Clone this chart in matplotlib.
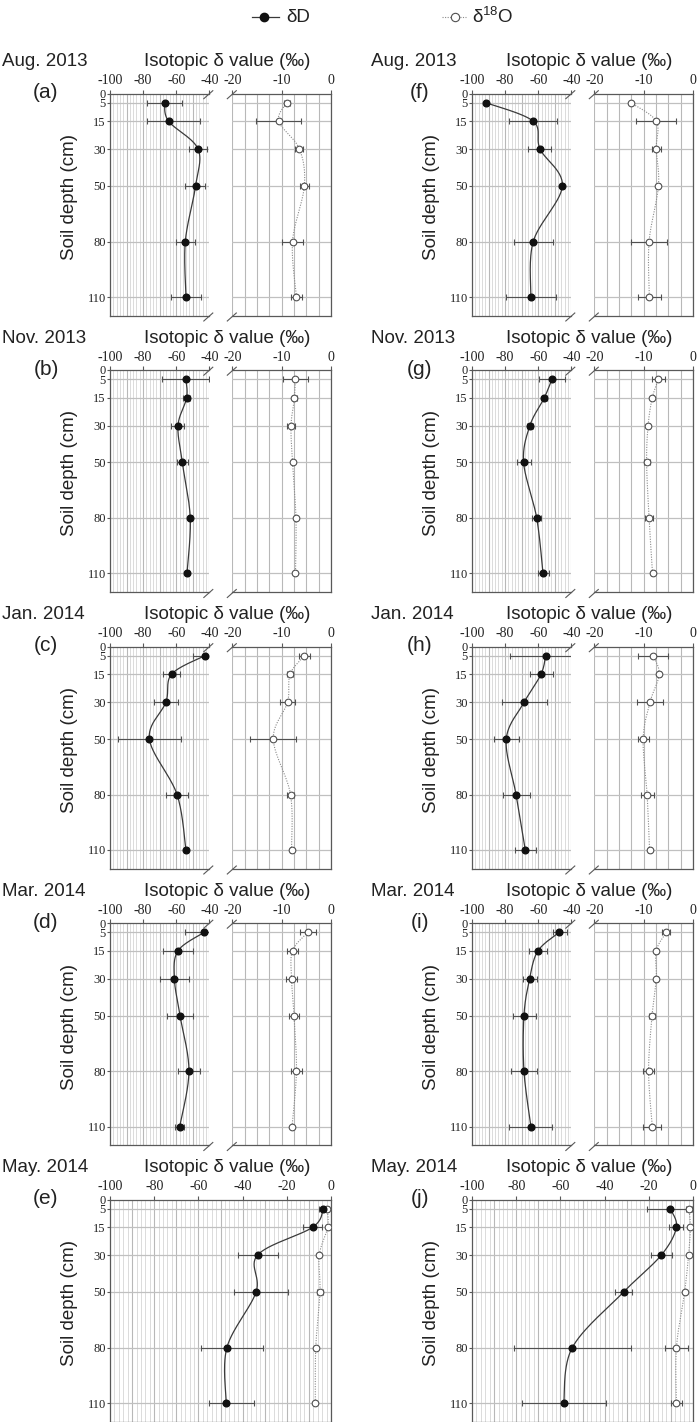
import numpy as np
import matplotlib
matplotlib.use("Agg")
from matplotlib import pyplot as plt
from matplotlib.lines import Line2D
from matplotlib.transforms import ScaledTranslation

W, H = 697, 1422

depths = [5, 15, 30, 50, 80, 110]
depth_ticks = [0, 5, 15, 30, 50, 80, 110]
months = ["Aug. 2013", "Nov. 2013", "Jan. 2014", "Mar. 2014", "May. 2014"]

# deltaD mean and lower / upper error, per panel
dD_mean = {
  "a": [-67.0, -64.6, -46.8, -48.3, -54.5, -54.1],
  "b": [-54.1, -53.7, -58.9, -56.3, -51.5, -53.5],
  "c": [-42.8, -62.8, -66.2, -76.2, -59.5, -54.1],
  "d": [-43.0, -58.9, -61.1, -57.7, -52.3, -57.9],
  "e": [-3.5, -8.3, -33.2, -33.9, -47.1, -47.4],
  "f": [-91.5, -63.0, -58.9, -45.4, -63.0, -64.4],
  "g": [-51.7, -56.3, -65.0, -68.8, -60.9, -57.1],
  "h": [-55.5, -58.3, -68.4, -79.3, -73.4, -67.8],
  "i": [-47.3, -60.1, -65.2, -68.6, -68.6, -64.4],
  "j": [-10.3, -7.5, -14.3, -31.4, -54.6, -58.5],
}
dD_lo = {
  "a": [10.5, 12.9, 5.2, 6.2, 5.8, 9.3],
  "b": [14.3, 2.0, 4.2, 3.4, 1.0, 1.0],
  "c": [6.9, 5.0, 7.2, 18.8, 6.7, 1.0],
  "d": [11.5, 9.3, 8.5, 8.1, 6.4, 2.8],
  "e": [1.8, 4.2, 8.7, 9.8, 11.6, 8.0],
  "f": [1.0, 14.5, 7.3, 1.0, 11.8, 14.9],
  "g": [8.0, 1.5, 2.0, 3.8, 2.9, 3.0],
  "h": [21.3, 6.9, 13.7, 7.6, 7.9, 6.4],
  "i": [4.0, 5.3, 4.2, 6.8, 7.6, 13.1],
  "j": [10.5, 3.2, 4.9, 3.9, 26.5, 18.9],
}
dD_hi = {
  "a": [10.6, 18.7, 5.4, 6.0, 5.8, 9.3],
  "b": [13.7, 2.0, 3.8, 3.6, 1.0, 1.0],
  "c": [6.9, 5.1, 7.5, 18.9, 6.4, 1.0],
  "d": [11.5, 9.2, 8.6, 8.0, 6.5, 2.8],
  "e": [1.8, 4.1, 9.2, 14.6, 16.3, 12.6],
  "f": [1.0, 14.5, 6.6, 1.0, 11.9, 15.1],
  "g": [8.1, 1.5, 2.0, 4.4, 2.8, 3.6],
  "h": [21.3, 7.0, 13.7, 7.5, 8.2, 6.7],
  "i": [4.5, 5.4, 4.3, 7.3, 7.7, 12.9],
  "j": [9.6, 3.0, 4.8, 3.8, 26.5, 19.0],
}

# delta18O mean and symmetric error, per panel
dO_mean = {
  "a": [-9.0, -10.6, -6.4, -5.4, -7.8, -7.0],
  "b": [-7.2, -7.4, -8.1, -7.8, -7.1, -7.2],
  "c": [-5.4, -8.3, -8.8, -11.7, -8.2, -8.0],
  "d": [-4.7, -7.8, -8.0, -7.5, -7.0, -7.9],
  "e": [-1.7, -1.5, -5.3, -5.0, -6.9, -7.1],
  "f": [-12.6, -7.45, -7.45, -7.0, -8.9, -8.85],
  "g": [-7.0, -8.25, -9.1, -9.4, -8.9, -8.2],
  "h": [-8.05, -6.85, -8.7, -10.1, -9.3, -8.8],
  "i": [-5.4, -7.45, -7.45, -8.3, -9.0, -8.25],
  "j": [-1.8, -1.2, -2.0, -3.8, -7.5, -7.5],
}
dO_err = {
  "a": [0.6, 4.5, 0.8, 0.9, 2.1, 1.2],
  "b": [2.6, 0.6, 0.8, 0.2, 0.2, 0.2],
  "c": [1.1, 0.7, 1.6, 4.7, 0.8, 0.3],
  "d": [1.6, 1.1, 1.1, 1.1, 1.1, 0.3],
  "e": [1.0, 0.3, 0.5, 1.5, 0.5, 0.5],
  "f": [0.2, 4.0, 0.9, 0.3, 3.7, 2.3],
  "g": [1.4, 0.3, 0.3, 0.6, 0.8, 0.3],
  "h": [3.0, 0.3, 2.6, 1.1, 1.3, 0.3],
  "i": [0.8, 0.3, 0.3, 0.6, 1.1, 1.8],
  "j": [1.2, 0.3, 0.3, 0.3, 5.3, 2.3],
}

SANS = "Liberation Sans"
SERIF = "Liberation Serif"
SPINE = "#595959"
TXT = "#222222"
plt.rcParams["axes.unicode_minus"] = False
plt.rcParams["mathtext.fontset"] = "custom"
plt.rcParams["mathtext.rm"] = SANS

ROW0, ROW_STEP, PANEL_H = 93.5, 276.5, 222.0
SUB_W, RIGHT_OFF, RIGHT_W, FULL_W = 99.3, 122.3, 98.7, 221.0


def add_px_axes(fig, x0, y0, w, h):
  return fig.add_axes([x0 / W, 1 - (y0 + h) / H, w / W, h / H])


def smooth(xs, ys, sx, sy, n=30):
  """Catmull-Rom curve through the points, in pixel-like space."""
  P = np.column_stack([np.asarray(xs) * sx, np.asarray(ys) * sy])
  Pe = np.vstack([P[0], P, P[-1]])
  t = np.linspace(0, 1, n)[:, None]
  segs = []
  for i in range(len(P) - 1):
    p0, p1, p2, p3 = Pe[i], Pe[i + 1], Pe[i + 2], Pe[i + 3]
    segs.append(0.5 * (2 * p1 + (p2 - p0) * t
                       + (2 * p0 - 5 * p1 + 4 * p2 - p3) * t ** 2
                       + (3 * p1 - p0 - 3 * p2 + p3) * t ** 3))
  C = np.vstack(segs)
  return C[:, 0] / sx, C[:, 1] / sy


def base_axis(fig, ax, xlim, xticks, grid_minor, grid_major, show_y, spines):
  ax.set_xlim(*xlim)
  ax.set_ylim(120, 0)
  ax.xaxis.tick_top()
  ax.set_xticks(xticks)
  ax.set_xticklabels([f"{v:g}" for v in xticks], fontfamily=SERIF,
                     fontsize=10, color=TXT)
  ax.tick_params(axis="x", direction="out", length=3, width=0.8,
                 color=SPINE, pad=1.5)
  for v in grid_minor:
    ax.axvline(v, color="#d6d6d6", lw=0.6, zorder=0)
  for v in grid_major:
    ax.axvline(v, color="#b8b8b8", lw=0.8, zorder=0)
  for d in depths:
    ax.axhline(d, color="#c0c0c0", lw=0.9, zorder=0)
  if show_y:
    ax.set_yticks(depth_ticks)
    labels = ax.set_yticklabels([str(v) for v in depth_ticks],
                                fontfamily=SERIF, fontsize=9, color=TXT)
    # the 0 and 5 labels sit very close; nudge them apart a little
    labels[0].set_transform(labels[0].get_transform()
                            + ScaledTranslation(0, 3.5 / 100, fig.dpi_scale_trans))
    labels[1].set_transform(labels[1].get_transform()
                            + ScaledTranslation(0, -1.5 / 100, fig.dpi_scale_trans))
    ax.tick_params(axis="y", direction="out", length=2, width=0.8,
                   color=SPINE, pad=1)
  else:
    ax.set_yticks([])
  for side in ["top", "bottom", "left", "right"]:
    ax.spines[side].set_visible(side in spines)
    ax.spines[side].set_color(SPINE)
    ax.spines[side].set_linewidth(0.9)
  ax.set_facecolor("white")


def draw_dD(ax, p, sx):
  cx, cy = smooth(dD_mean[p], depths, sx, PANEL_H / 120)
  ax.plot(cx, cy, color="#3a3a3a", lw=0.9, zorder=3)
  ax.errorbar(dD_mean[p], depths, xerr=[dD_lo[p], dD_hi[p]], fmt="none",
              ecolor="#505050", elinewidth=0.8, capsize=2, capthick=0.8,
              zorder=4)
  ax.plot(dD_mean[p], depths, "o", ms=4.8, mfc="#111111", mec="#111111",
          zorder=5)


def draw_dO(ax, p, sx):
  cx, cy = smooth(dO_mean[p], depths, sx, PANEL_H / 120)
  ax.plot(cx, cy, color="#8a8a8a", lw=0.8, ls=(0, (1, 1.3)), zorder=3)
  ax.errorbar(dO_mean[p], depths, xerr=dO_err[p], fmt="none",
              ecolor="#505050", elinewidth=0.8, capsize=2, capthick=0.8,
              zorder=4)
  ax.plot(dO_mean[p], depths, "o", ms=4.8, mfc="white", mec="#505050",
          mew=0.8, zorder=5)


def break_mark(fig, x, y):
  fig.add_artist(Line2D([(x - 4.5) / W, (x + 4.5) / W],
                        [1 - (y + 4) / H, 1 - (y - 4) / H],
                        transform=fig.transFigure, color=SPINE, lw=0.8))


def fig_text(fig, x, y, s, **kw):
  fig.text(x / W, 1 - y / H, s, fontfamily=SANS, color=TXT, **kw)


fig = plt.figure(figsize=(W / 100, H / 100), dpi=100)

columns = [(110.0, "abcde", 2, 227, 46, 70), (472.0, "fghij", 371, 589, 420, 431)]
for x0, letters, month_x, title_x, letter_x, soil_x in columns:
  for row, p in enumerate(letters):
    top = ROW0 + ROW_STEP * row
    off = ROW_STEP * row
    if row < 4:
      axl = add_px_axes(fig, x0, top, SUB_W, PANEL_H)
      base_axis(fig, axl, (-100, -40), [-100, -80, -60, -40],
                np.arange(-98, -40, 2), np.arange(-90, -39, 10), True,
                ["top", "bottom", "left"])
      draw_dD(axl, p, SUB_W / 60)
      axr = add_px_axes(fig, x0 + RIGHT_OFF, top, RIGHT_W, PANEL_H)
      base_axis(fig, axr, (-20, 0), [-20, -10, 0], [],
                np.arange(-20, 0.1, 2.5), False, ["top", "bottom", "right"])
      draw_dO(axr, p, RIGHT_W / 20)
      for bx in (x0 + SUB_W - 1, x0 + RIGHT_OFF - 0.5):
        break_mark(fig, bx, top + 1.2)
        break_mark(fig, bx, top + PANEL_H + 1.5)
    else:
      ax = add_px_axes(fig, x0, top, FULL_W, PANEL_H)
      base_axis(fig, ax, (-100, 0), [-100, -80, -60, -40, -20, 0],
                np.arange(-98, 0, 2), np.arange(-90, 0.1, 10), True,
                ["top", "bottom", "left", "right"])
      draw_dO(ax, p, FULL_W / 100)
      draw_dD(ax, p, FULL_W / 100)

    fig_text(fig, month_x, 62 + off, months[row], fontsize=13.5,
             ha="left", va="center")
    fig_text(fig, title_x, 62 + off, "Isotopic δ value (‰)", fontsize=13.5,
             ha="center", va="center")
    fig_text(fig, letter_x, 93 + off, f"({p})", fontsize=15,
             ha="center", va="center")
    fig_text(fig, soil_x, 197 + off, "Soil depth (cm)", fontsize=13.5,
             ha="center", va="center", rotation=90)

# legend at the top
fig.add_artist(Line2D([252 / W, 279 / W], [1 - 17 / H] * 2,
                      transform=fig.transFigure, color="#3a3a3a", lw=0.9))
fig.add_artist(Line2D([264 / W], [1 - 17 / H], transform=fig.transFigure,
                      marker="o", ms=6, mfc="#111111", mec="#111111"))
fig_text(fig, 286, 17, "δD", fontsize=13.5, ha="left", va="center")
fig.add_artist(Line2D([442 / W, 466 / W], [1 - 17 / H] * 2,
                      transform=fig.transFigure, color="#8a8a8a", lw=0.8,
                      ls=(0, (1, 1.3))))
fig.add_artist(Line2D([455 / W], [1 - 17 / H], transform=fig.transFigure,
                      marker="o", ms=6, mfc="white", mec="#505050", mew=0.8))
fig_text(fig, 472, 17, r"δ$^{\mathregular{18}}$O", fontsize=13.5,
         ha="left", va="center")

fig.savefig("out.png", dpi=100, facecolor="white")
